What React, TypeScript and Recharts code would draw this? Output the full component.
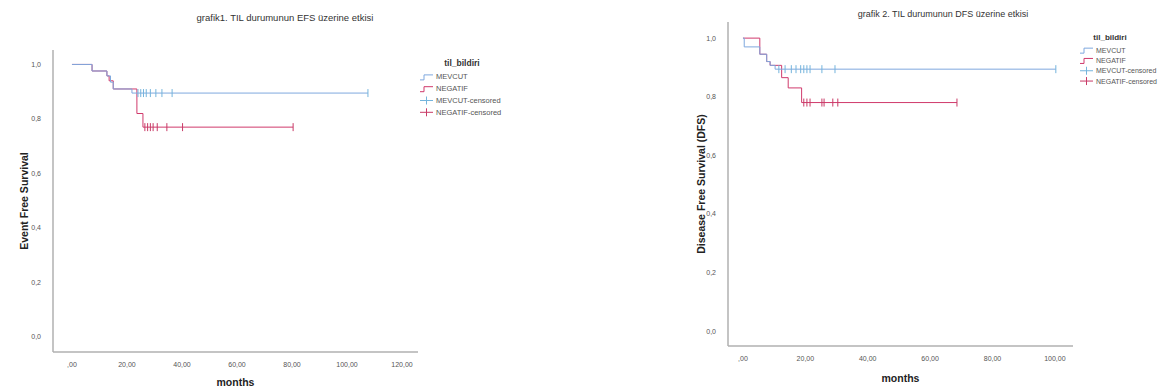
import React from 'react';
import { ComposedChart, Line, Scatter, XAxis, YAxis } from 'recharts';

// ---------- data ----------
const yTicks = [0, 0.2, 0.4, 0.6, 0.8, 1.0];
const yTickLabels = ['0,0', '0,2', '0,4', '0,6', '0,8', '1,0'];

const xTicks1 = [0, 20, 40, 60, 80, 100, 120];
const xTickLabels1 = [',00', '20,00', '40,00', '60,00', '80,00', '100,00', '120,00'];
const xTicks2 = [0, 20, 40, 60, 80, 100];
const xTickLabels2 = [',00', '20,00', '40,00', '60,00', '80,00', '100,00'];

const legendLabels = ['MEVCUT', 'NEGATIF', 'MEVCUT-censored', 'NEGATIF-censored'];

// grafik 1 (EFS)
const efsMevcutTime = [0, 7.3, 12.7, 14, 15, 21.8, 107.6];
const efsMevcutSurv = [1.0, 0.976, 0.958, 0.935, 0.91, 0.895, 0.895];
const efsNegatifTime = [0, 7.3, 12.7, 13.5, 15, 23.6, 25.8, 80.4];
const efsNegatifSurv = [1.0, 0.976, 0.958, 0.94, 0.91, 0.82, 0.77, 0.77];
const efsMevcutCensored = [24, 25, 26, 27, 28.5, 30.5, 32.7, 36.4, 107.6];
const efsNegatifCensored = [26.5, 27.5, 28.5, 29.5, 31, 34.5, 40.2, 80.4];

// grafik 2 (DFS)
const dfsMevcutTime = [0, 0.4, 5.4, 7.6, 8.7, 10.3, 100.3];
const dfsMevcutSurv = [1.0, 0.97, 0.945, 0.92, 0.907, 0.894, 0.894];
const dfsNegatifTime = [0, 5.4, 7.6, 8.7, 12.4, 14.5, 18.8, 68.6];
const dfsNegatifSurv = [1.0, 0.945, 0.92, 0.907, 0.865, 0.83, 0.78, 0.78];
const dfsMevcutCensored = [11.5, 13.5, 15.5, 17, 18.5, 19.5, 20.5, 21.5, 25.3, 29.5, 100.3];
const dfsNegatifCensored = [19.5, 20.5, 21.5, 25.3, 26, 28.8, 30.4, 68.6];

// ---------- helpers ----------
const FONT = '"Liberation Sans", Arial, sans-serif';
const BLUE = '#7fa8de';
const RED = '#d03a6c';
const BLUE_C = '#74b4dc';
const RED_C = '#c83a66';

const toSeries = (times: number[], survs: number[]) => times.map((t, i) => ({ t, s: survs[i] }));
const survAt = (times: number[], survs: number[], t: number) => {
  let s = survs[0];
  for (let i = 0; i < times.length; i++) if (times[i] <= t) s = survs[i];
  return s;
};
const toCensored = (cens: number[], times: number[], survs: number[]) =>
  cens.map((t) => ({ t, s: survAt(times, survs, t) }));

const makeTick = (color: string) => (props: any) => {
  const { cx, cy } = props;
  if (cx == null || cy == null) return <g />;
  return <line x1={cx} x2={cx} y1={cy - 4} y2={cy + 4} stroke={color} strokeWidth={1} />;
};

const LegendBox = ({ fontSize, rowH, titleX }: { fontSize: number; rowH: number; titleX: number }) => {
  const w = 130;
  const colors = [BLUE, RED, BLUE_C, RED_C];
  return (
    <svg width={w} height={rowH * 5 + 10} style={{ display: 'block', overflow: 'visible' }}>
      <text x={titleX} y={9} fontSize={fontSize + 1} fontWeight="bold" fill="#333" textAnchor="middle" fontFamily={FONT}>
        til_bildiri
      </text>
      {legendLabels.map((lab, i) => {
        const y = 14 + rowH * i + rowH / 2;
        const c = colors[i];
        return (
          <g key={lab}>
            {i < 2 ? (
              <path d={`M0,${y + 3} H4 V${y - 2} H13`} fill="none" stroke={c} strokeWidth={1} />
            ) : (
              <g>
                <line x1={0} x2={13} y1={y} y2={y} stroke={c} strokeWidth={1} />
                <line x1={6.5} x2={6.5} y1={y - 4} y2={y + 4} stroke={c} strokeWidth={1} />
              </g>
            )}
            <text x={16} y={y + 2.5} fontSize={fontSize} fill="#555" fontFamily={FONT}>
              {lab}
            </text>
          </g>
        );
      })}
    </svg>
  );
};

type KMProps = {
  width: number;
  height: number;
  margin: { top: number; right: number; left: number; bottom: number };
  yAxisWidth: number;
  xAxisHeight: number;
  xDomain: [number, number];
  yDomain: [number, number];
  xTicks: number[];
  xTickLabels: string[];
  yLabel: string;
  yLabelX: number;
  xLabelDy: number;
  mevcut: { t: number; s: number }[];
  negatif: { t: number; s: number }[];
  mevcutC: { t: number; s: number }[];
  negatifC: { t: number; s: number }[];
};

const KMChart = (p: KMProps) => {
  const tickStyle = { fontSize: 7, fill: '#555', fontFamily: FONT };
  return (
    <ComposedChart width={p.width} height={p.height} margin={p.margin}>
      <XAxis
        type="number"
        dataKey="t"
        domain={p.xDomain}
        ticks={p.xTicks}
        tickFormatter={(v: number) => p.xTickLabels[p.xTicks.indexOf(v)] ?? ''}
        allowDataOverflow
        height={p.xAxisHeight}
        tickLine={false}
        axisLine={{ stroke: '#b0b0b0', strokeWidth: 1.5 }}
        tick={tickStyle}
        tickMargin={4}
        interval={0}
        label={{
          content: (lp: any) => {
            const vb = lp.viewBox || {};
            return (
              <text
                x={vb.x + vb.width / 2}
                y={vb.y + p.xLabelDy}
                textAnchor="middle"
                fontSize={10.5}
                fontWeight="bold"
                fill="#222"
                fontFamily={FONT}
              >
                months
              </text>
            );
          },
        }}
      />
      <YAxis
        type="number"
        dataKey="s"
        domain={p.yDomain}
        ticks={yTicks}
        tickFormatter={(v: number) => yTickLabels[yTicks.indexOf(v)] ?? ''}
        allowDataOverflow
        width={p.yAxisWidth}
        tickLine={false}
        axisLine={{ stroke: '#b0b0b0', strokeWidth: 1.5 }}
        tick={tickStyle}
        tickMargin={6}
        interval={0}
        label={{
          content: (lp: any) => {
            const vb = lp.viewBox || {};
            const cx = vb.x + p.yLabelX;
            const cy = vb.y + vb.height / 2;
            return (
              <text
                x={cx}
                y={cy}
                transform={`rotate(-90 ${cx} ${cy})`}
                textAnchor="middle"
                dominantBaseline="middle"
                fontSize={10.5}
                fontWeight="bold"
                fill="#222"
                fontFamily={FONT}
              >
                {p.yLabel}
              </text>
            );
          },
        }}
      />
      <Line
        data={p.negatif}
        dataKey="s"
        type="stepAfter"
        stroke={RED}
        strokeWidth={1}
        dot={false}
        isAnimationActive={false}
        legendType="none"
      />
      <Line
        data={p.mevcut}
        dataKey="s"
        type="stepAfter"
        stroke={BLUE}
        strokeWidth={1}
        dot={false}
        isAnimationActive={false}
        legendType="none"
      />
      <Scatter data={p.negatifC} dataKey="s" shape={makeTick(RED_C)} isAnimationActive={false} legendType="none" />
      <Scatter data={p.mevcutC} dataKey="s" shape={makeTick(BLUE_C)} isAnimationActive={false} legendType="none" />
    </ComposedChart>
  );
};

export default function App() {
  return (
    <div
      style={{
        position: 'absolute',
        left: 0,
        top: 0,
        width: 1164,
        height: 390,
        background: '#fff',
        fontFamily: FONT,
        overflow: 'hidden',
      }}
    >
      <div
        style={{
          position: 'absolute',
          left: 0,
          width: 570,
          top: 12,
          textAlign: 'center',
          fontSize: 9.5,
          color: '#333',
          fontFamily: FONT,
        }}
      >
        grafik1. TIL durumunun EFS üzerine etkisi
      </div>
      <div
        style={{
          position: 'absolute',
          left: 843,
          width: 200,
          top: 9,
          textAlign: 'center',
          fontSize: 9,
          color: '#333',
          fontFamily: FONT,
          whiteSpace: 'nowrap',
        }}
      >
        grafik 2. TIL durumunun DFS üzerine etkisi
      </div>

      <div style={{ position: 'absolute', left: 0, top: 0 }}>
        <KMChart
          width={570}
          height={390}
          margin={{ top: 50, right: 152, left: 0, bottom: 0 }}
          yAxisWidth={53}
          xAxisHeight={38}
          xDomain={[-6.9, 125.8]}
          yDomain={[-0.055, 1.053]}
          xTicks={xTicks1}
          xTickLabels={xTickLabels1}
          yLabel="Event Free Survival"
          yLabelX={25}
          xLabelDy={34}
          mevcut={toSeries(efsMevcutTime, efsMevcutSurv)}
          negatif={toSeries(efsNegatifTime, efsNegatifSurv)}
          mevcutC={toCensored(efsMevcutCensored, efsMevcutTime, efsMevcutSurv)}
          negatifC={toCensored(efsNegatifCensored, efsNegatifTime, efsNegatifSurv)}
        />
      </div>
      <div style={{ position: 'absolute', left: 420, top: 57 }}>
        <LegendBox fontSize={7.5} rowH={11.8} titleX={42} />
      </div>

      <div style={{ position: 'absolute', left: 680, top: 0 }}>
        <KMChart
          width={484}
          height={390}
          margin={{ top: 22, right: 91, left: 0, bottom: 0 }}
          yAxisWidth={48}
          xAxisHeight={44}
          xDomain={[-4.8, 105.8]}
          yDomain={[-0.051, 1.055]}
          xTicks={xTicks2}
          xTickLabels={xTickLabels2}
          yLabel="Disease Free Survival (DFS)"
          yLabelX={22}
          xLabelDy={36}
          mevcut={toSeries(dfsMevcutTime, dfsMevcutSurv)}
          negatif={toSeries(dfsNegatifTime, dfsNegatifSurv)}
          mevcutC={toCensored(dfsMevcutCensored, dfsMevcutTime, dfsMevcutSurv)}
          negatifC={toCensored(dfsNegatifCensored, dfsNegatifTime, dfsNegatifSurv)}
        />
      </div>
      <div style={{ position: 'absolute', left: 1080, top: 31 }}>
        <LegendBox fontSize={7} rowH={10.3} titleX={30} />
      </div>
    </div>
  );
}
